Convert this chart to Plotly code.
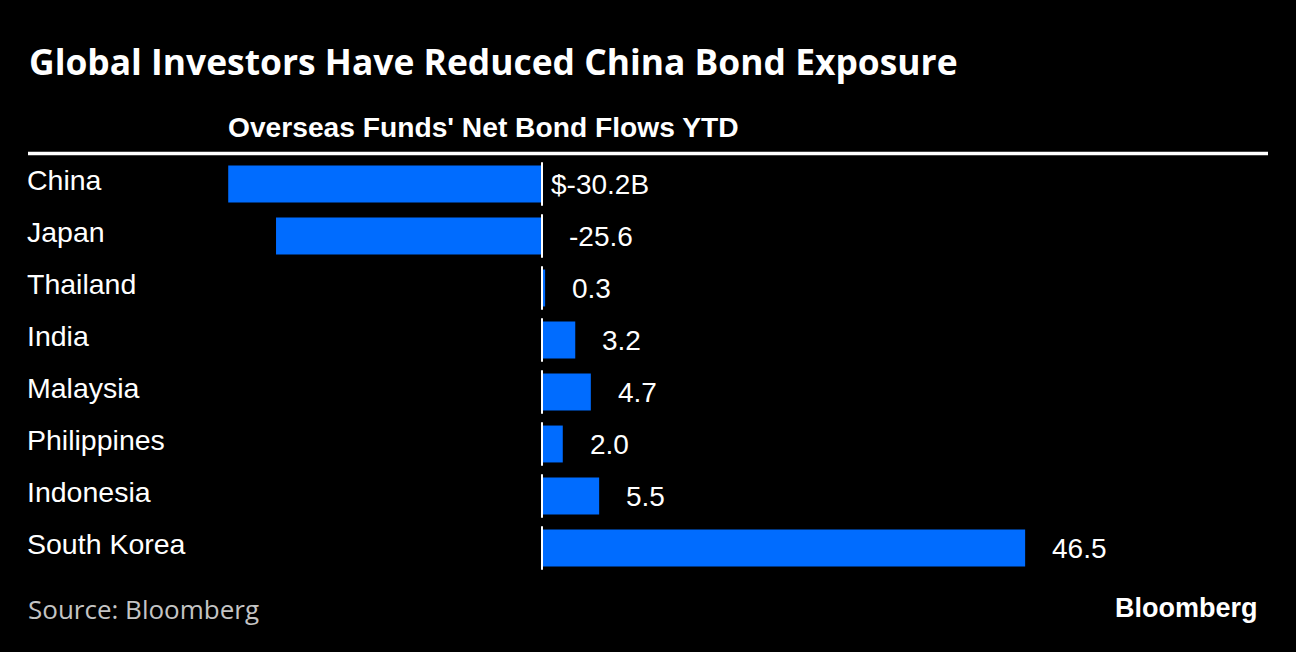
import plotly.graph_objects as go

countries = ["China", "Japan", "Thailand", "India", "Malaysia", "Philippines", "Indonesia", "South Korea"]
flows = [-30.2, -25.6, 0.3, 3.2, 4.7, 2.0, 5.5, 46.5]
label_text = ["$-30.2B", "-25.6", "0.3", "3.2", "4.7", "2.0", "5.5", "46.5"]

title = "Global Investors Have Reduced China Bond Exposure"
subtitle = "Overseas Funds' Net Bond Flows YTD"
source = "Source: Bloomberg"
brand = "Bloomberg"

W, H = 1296, 652
ML, MR, MT, MB = 28, 28, 158, 78
plot_w = W - ML - MR
plot_h = H - MT - MB
zero_px = 542 - ML
px_per_unit = 10.39
x_range = [-zero_px / px_per_unit, (plot_w - zero_px) / px_per_unit]


def py(pix):
    return (H - MB - pix) / plot_h


def px(pix):
    return (pix - ML) / plot_w


BLUE = "#006cff"

fig = go.Figure()
fig.add_trace(go.Bar(
    x=flows, y=countries, orientation="h",
    marker=dict(color=BLUE, line=dict(width=0)),
    hoverinfo="x+y",
))

annotations = []
for i, (c, v, t) in enumerate(zip(countries, flows, label_text)):
    annotations.append(dict(
        x=0, xref="paper", y=c, yref="y", text=c, showarrow=False,
        xanchor="left", yanchor="middle", yshift=4, xshift=-3,
        font=dict(family="Liberation Sans, Arial, sans-serif", size=28.5, color="#ffffff"),
    ))
    hang = 18 if t.startswith("$") else 0
    annotations.append(dict(
        x=max(v, 0), xref="x", y=c, yref="y", text=t, showarrow=False,
        xanchor="left", yanchor="middle", xshift=25 - hang,
        font=dict(family="Liberation Sans, Arial, sans-serif", size=28, color="#ffffff"),
    ))

annotations.append(dict(
    x=min(flows), xref="x", y=py(127), yref="paper", text="<b>" + subtitle + "</b>",
    showarrow=False, xanchor="left", yanchor="middle", xshift=-2,
    font=dict(family="Liberation Sans, Arial, sans-serif", size=28.2, color="#ffffff"),
))
annotations.append(dict(
    x=0, xref="paper", y=py(609), yref="paper", text=source, showarrow=False,
    xanchor="left", yanchor="middle", xshift=-2,
    font=dict(family="Open Sans, Noto Sans, sans-serif", size=26, color="#c4c4c4"),
))
annotations.append(dict(
    x=px(1260), xref="paper", y=py(608), yref="paper", text="<b>" + brand + "</b>",
    showarrow=False, xanchor="right", yanchor="middle",
    font=dict(family="Liberation Sans, Arial, sans-serif", size=27, color="#ffffff"),
))

shapes = [dict(
    type="line", xref="paper", yref="paper", x0=0, x1=1, y0=py(153.5), y1=py(153.5),
    line=dict(color="#ffffff", width=3.5),
)]
for i in range(len(countries)):
    shapes.append(dict(
        type="line", xref="x", yref="y", x0=0, x1=0, y0=i - 0.42, y1=i + 0.42,
        line=dict(color="#ffffff", width=2),
    ))

fig.update_layout(
    width=W, height=H,
    paper_bgcolor="#000000", plot_bgcolor="#000000",
    margin=dict(l=ML, r=MR, t=MT, b=MB, pad=0),
    showlegend=False,
    bargap=0.29,
    title=dict(
        text="<b>" + title + "</b>", xref="container", yref="container",
        x=29 / W, y=1 - 63 / H, xanchor="left", yanchor="middle",
        font=dict(family="Open Sans, Noto Sans, sans-serif", size=35.4, color="#ffffff"),
    ),
    xaxis=dict(range=x_range, visible=False, fixedrange=True),
    yaxis=dict(autorange="reversed", visible=False, fixedrange=True,
               categoryorder="array", categoryarray=countries),
    annotations=annotations,
    shapes=shapes,
)

fig.write_html(
    "out.html",
    config={"displayModeBar": False},
    post_script="document.body.style.margin='0';document.body.style.background='#000';",
)
